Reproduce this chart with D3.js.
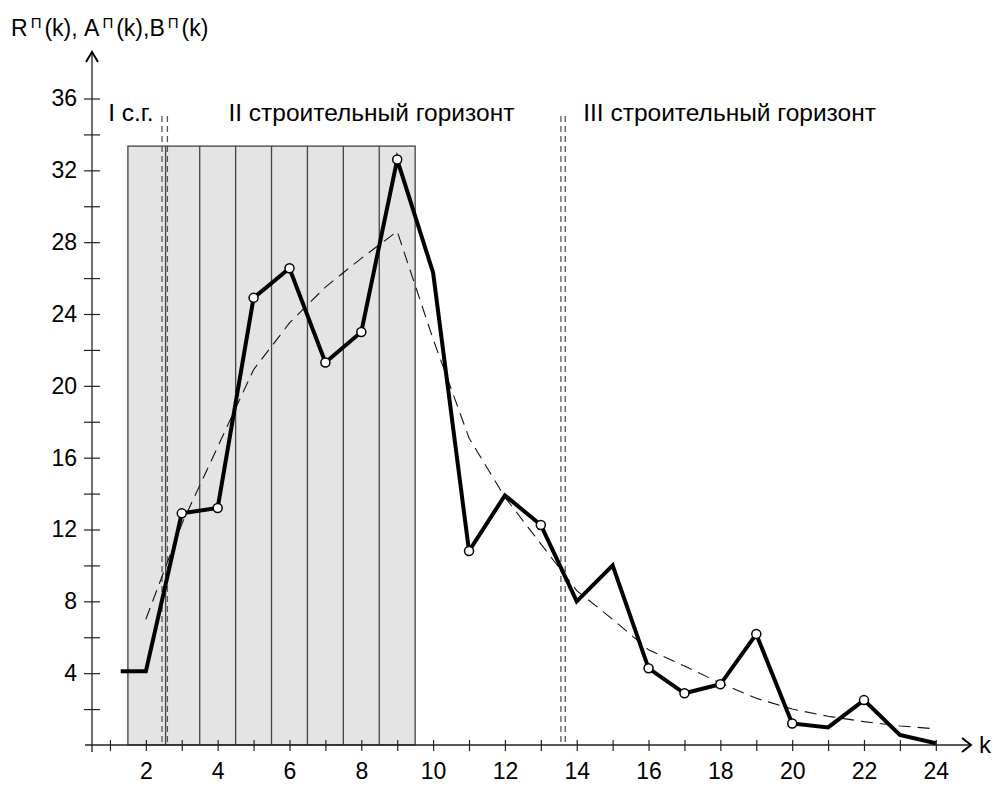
<!DOCTYPE html>
<html><head><meta charset="utf-8">
<script src="https://cdn.jsdelivr.net/npm/d3@7"></script>
<style>body{margin:0;background:#fff}svg{display:block}text{font-family:"Liberation Sans",Arial,sans-serif;fill:#000}</style>
</head><body>
<svg id="c" width="1002" height="789"></svg>
<script>
// Data
const rK = [1.3, 2, 3, 4, 5, 6, 7, 8, 9, 10, 11, 12, 13, 14, 15, 16, 17, 18, 19, 20, 21, 22, 23, 24];
const rVal = [4.1, 4.1, 12.9, 13.2, 24.9, 26.55, 21.3, 23.0, 32.6, 26.3, 10.8, 13.9, 12.25, 8.0, 10.0, 4.27, 2.88, 3.38, 6.18, 1.2, 0.98, 2.5, 0.56, 0.1];
const markedK = [3, 4, 5, 6, 7, 8, 9, 11, 13, 16, 17, 18, 19, 20, 22];
const trendK = [2, 3, 4, 5, 6, 7, 8, 9, 10, 11, 12, 13, 14, 15, 16, 17, 18, 19, 20, 21, 22, 23, 24];
const trendVal = [7.0, 12.3, 16.6, 20.9, 23.5, 25.5, 27.1, 28.6, 22.6, 17.1, 13.8, 11.2, 8.6, 7.0, 5.3, 4.4, 3.45, 2.6, 2.0, 1.6, 1.3, 1.06, 0.9];
const bandStart = 1.5, bandEnd = 9.5, bandTop = 33.35;
const bandLines = [3.5, 4.5, 5.5, 6.5, 7.5, 8.5];
const solidDivider = 2.55;
const horizonBounds = [[2.45, 2.6], [13.56, 13.68]];
const horizonLabels = [{k: 0.95, t: "I с.г."}, {k: 4.3, t: "II строительный горизонт"}, {k: 14.18, t: "III строительный горизонт"}];
const xTicks = d3.range(1, 25);
const yTicks = d3.range(2, 37, 2);

const svg = d3.select("#c");
const x = d3.scaleLinear().domain([0.5, 24]).range([92, 935.8]);
const y = d3.scaleLinear().domain([0, 36]).range([745, 98.5]);
const x0 = x(0.5), y0 = y(0);

// Band
svg.append("rect").attr("x", x(bandStart)).attr("y", y(bandTop))
  .attr("width", x(bandEnd) - x(bandStart)).attr("height", y0 - y(bandTop))
  .attr("fill", "#e4e4e4").attr("stroke", "#333").attr("stroke-width", 1.2);
svg.selectAll(".bl").data(bandLines.concat([solidDivider])).enter().append("line")
  .attr("x1", d => x(d)).attr("x2", d => x(d)).attr("y1", y(bandTop)).attr("y2", y0)
  .attr("stroke", "#444").attr("stroke-width", 1.3);

// Horizon dashed pairs
horizonBounds.forEach(pair => {
  pair.forEach(k => {
    svg.append("line").attr("x1", x(k)).attr("x2", x(k)).attr("y1", 116).attr("y2", y0)
      .attr("stroke", "#555").attr("stroke-width", 1.3).attr("stroke-dasharray", "6,4");
  });
});

// Axes
const gx = svg.append("g").attr("transform", `translate(0,${y0})`)
  .call(d3.axisBottom(x).tickValues(xTicks).tickSize(0).tickPadding(29)
    .tickFormat(d => d % 2 === 0 ? d : ""));
gx.select(".domain").remove();
gx.selectAll(".tick line").attr("y1", -5).attr("y2", 6).attr("stroke", "#222").attr("stroke-width", 1.2);
gx.selectAll(".tick text").style("font-size", "23px").attr("font-family", "Liberation Sans, Arial, sans-serif").attr("dy", "0.2em");

const gy = svg.append("g").attr("transform", `translate(${x0},0)`)
  .call(d3.axisLeft(y).tickValues(yTicks).tickSize(0).tickPadding(15)
    .tickFormat(d => d % 4 === 0 ? d : ""));
gy.select(".domain").remove();
gy.selectAll(".tick line").attr("x1", -8).attr("x2", 8).attr("stroke", "#222").attr("stroke-width", 1.2);
gy.selectAll(".tick text").style("font-size", "23px").attr("font-family", "Liberation Sans, Arial, sans-serif");

// axis lines with arrows
svg.append("line").attr("x1", 85).attr("x2", 970).attr("y1", y0).attr("y2", y0).attr("stroke", "#222").attr("stroke-width", 1.3);
svg.append("path").attr("d", `M${962},${y0-7}L${971},${y0}L${962},${y0+7}`).attr("fill", "none").attr("stroke", "#000").attr("stroke-width", 2);
svg.append("line").attr("x1", x0).attr("x2", x0).attr("y1", 752).attr("y2", 53).attr("stroke", "#222").attr("stroke-width", 1.3);
svg.append("path").attr("d", `M${x0-6},${62}L${x0},${52}L${x0+6},${62}`).attr("fill", "none").attr("stroke", "#000").attr("stroke-width", 2);
svg.append("text").attr("x", 979).attr("y", 753).style("font-size", "24px").text("k");

// Y title
const title = svg.append("text").attr("x", 11).attr("y", 36).style("font-size", "23px");
[["R", false], ["П", true], ["(k), A", false], ["П", true], ["(k),B", false], ["П", true], ["(k)", false]].forEach(([t, sup]) => {
  title.append("tspan").text(sup ? "\u2009" + t + "\u2009" : t).attr("baseline-shift", sup ? "55%" : null).style("font-size", sup ? "15px" : "23px");
});

// Horizon labels
horizonLabels.forEach(h => {
  svg.append("text").attr("x", x(h.k)).attr("y", 121).style("font-size", "24.5px").text(h.t);
});

// Trend dashed
const line = d3.line().x(d => x(d[0])).y(d => y(d[1]));
svg.append("path").datum(trendK.map((k, i) => [k, trendVal[i]])).attr("d", line)
  .attr("fill", "none").attr("stroke", "#111").attr("stroke-width", 1.1).attr("stroke-dasharray", "12,7");

// Main line
const rData = rK.map((k, i) => [k, rVal[i]]);
svg.append("path").datum(rData).attr("d", line)
  .attr("fill", "none").attr("stroke", "#000").attr("stroke-width", 4).attr("stroke-linejoin", "miter");
svg.selectAll(".pt").data(rData.filter(d => markedK.includes(d[0]))).enter().append("circle")
  .attr("cx", d => x(d[0])).attr("cy", d => y(d[1])).attr("r", 4.5)
  .attr("fill", "#fff").attr("stroke", "#000").attr("stroke-width", 1.5);
</script>
</body></html>
